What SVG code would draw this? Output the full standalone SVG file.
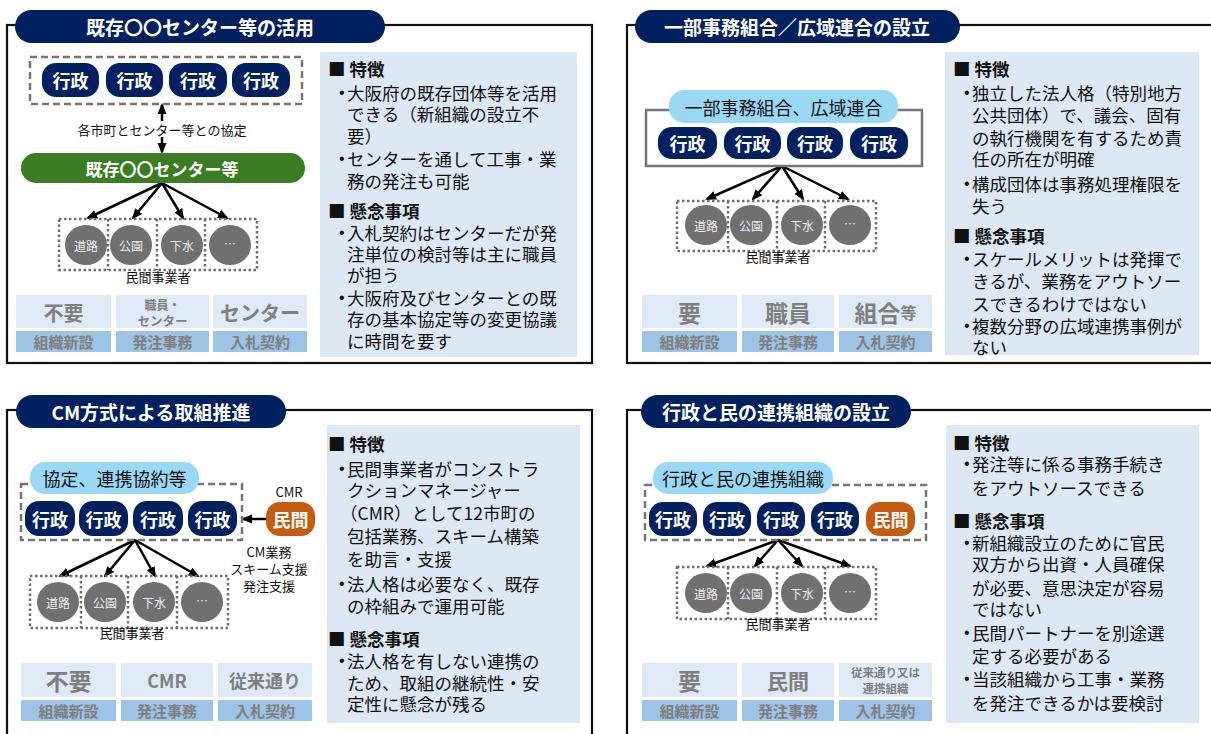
<svg xmlns="http://www.w3.org/2000/svg" width="1211" height="734" viewBox="0 0 1211 734">
<defs>
<marker id="ah" markerWidth="11" markerHeight="10" refX="9" refY="5" orient="auto" markerUnits="userSpaceOnUse"><path d="M0,0.5 L11,5 L0,9.5 z" fill="#000"/></marker>
<style>
text{font-family:"Noto Sans CJK JP","Noto Sans",sans-serif;}
.frame{fill:none;stroke:#111;stroke-width:2.2;}
.title{fill:#002060;}
.tt{fill:#fff;font-size:19px;font-weight:bold;text-anchor:middle;dominant-baseline:central;}
.gov{fill:#002060;}
.govt{fill:#fff;font-size:18px;font-weight:bold;text-anchor:middle;dominant-baseline:central;}
.min{fill:#c55a11;}
.dash{fill:none;stroke:#767676;stroke-width:2.5;stroke-dasharray:7 4;}
.solid{fill:none;stroke:#767676;stroke-width:2.5;}
.dot{fill:none;stroke:#6f6f6f;stroke-width:2.5;stroke-dasharray:2.5 2.5;}
.lb{fill:#99d9f6;}
.lbt{fill:#111;font-size:18px;text-anchor:middle;dominant-baseline:central;}
.circ{fill:#707070;}
.ct{fill:#eee;font-size:12px;text-anchor:middle;dominant-baseline:central;}
.small{fill:#111;font-size:13px;text-anchor:middle;dominant-baseline:central;}
.r1{fill:#deebf7;}
.r2{fill:#9dc3e6;}
.g{fill:#7f7f7f;font-weight:bold;text-anchor:middle;dominant-baseline:central;}
.box{fill:#dde8f5;}
.bt{fill:#111;font-size:17.5px;dominant-baseline:central;}
.hd{font-weight:bold;}
.bul{font-family:"Liberation Sans",sans-serif;font-size:16px;}
.con{fill:none;stroke:#000;stroke-width:2.5;}
</style>
</defs>
<rect width="1211" height="734" fill="#fff"/>

<!-- frames -->
<g id="frames">
<rect class="frame" x="7" y="25" width="585" height="338"/>
<rect class="frame" x="627" y="25" width="600" height="338"/>
<rect class="frame" x="7" y="410" width="585" height="340"/>
<rect class="frame" x="627" y="410" width="600" height="340"/>
</g>

<!-- connectors -->
<g id="connectors">
<line class="con" x1="162" y1="121" x2="162" y2="105" marker-end="url(#ah)"/>
<line class="con" x1="162" y1="137" x2="162" y2="152" marker-end="url(#ah)"/>
<line class="con" x1="162" y1="183" x2="88" y2="218" marker-end="url(#ah)"/>
<line class="con" x1="162" y1="183" x2="133" y2="218" marker-end="url(#ah)"/>
<line class="con" x1="162" y1="183" x2="183" y2="218" marker-end="url(#ah)"/>
<line class="con" x1="162" y1="183" x2="227" y2="218" marker-end="url(#ah)"/>

<line class="con" x1="782" y1="166" x2="707" y2="199" marker-end="url(#ah)"/>
<line class="con" x1="782" y1="166" x2="753" y2="199" marker-end="url(#ah)"/>
<line class="con" x1="782" y1="166" x2="803" y2="199" marker-end="url(#ah)"/>
<line class="con" x1="782" y1="166" x2="848" y2="199" marker-end="url(#ah)"/>

<line class="con" x1="266" y1="519" x2="243" y2="519" marker-end="url(#ah)"/>
<line class="con" x1="135" y1="540" x2="60" y2="576" marker-end="url(#ah)"/>
<line class="con" x1="135" y1="540" x2="105" y2="576" marker-end="url(#ah)"/>
<line class="con" x1="135" y1="540" x2="155" y2="576" marker-end="url(#ah)"/>
<line class="con" x1="135" y1="540" x2="198" y2="576" marker-end="url(#ah)"/>

<line class="con" x1="778" y1="540" x2="707" y2="566" marker-end="url(#ah)"/>
<line class="con" x1="778" y1="540" x2="755" y2="566" marker-end="url(#ah)"/>
<line class="con" x1="778" y1="540" x2="802" y2="566" marker-end="url(#ah)"/>
<line class="con" x1="778" y1="540" x2="850" y2="566" marker-end="url(#ah)"/>
</g>

<!-- ============ Panel 1 ============ -->
<g id="p1-title"><rect class="title" x="15" y="10" width="370" height="33" rx="16.5"/><text class="tt" x="200" y="26.5">既存〇〇センター等の活用</text></g>
<g id="p1-gov">
<rect class="dash" x="30" y="57" width="272" height="47"/>
<rect class="gov" x="42" y="63" width="57" height="34" rx="14"/><text class="govt" x="70.5" y="80">行政</text>
<rect class="gov" x="106" y="63" width="57" height="34" rx="14"/><text class="govt" x="134.5" y="80">行政</text>
<rect class="gov" x="169" y="63" width="58" height="34" rx="14"/><text class="govt" x="198" y="80">行政</text>
<rect class="gov" x="232" y="63" width="58" height="34" rx="14"/><text class="govt" x="261" y="80">行政</text>
</g>
<g id="p1-agree"><text class="small" x="162" y="129">各市町とセンター等との協定</text></g>
<g id="p1-center"><rect x="21" y="153" width="284" height="30" rx="15" fill="#3a7d22"/><text x="162" y="168" fill="#fff" font-size="17" font-weight="bold" text-anchor="middle" dominant-baseline="central">既存〇〇センター等</text></g>
<g id="p1-private">
<rect class="dot" x="59" y="219" width="198" height="51"/>
<line class="dot" x1="108" y1="219" x2="108" y2="270"/><line class="dot" x1="157" y1="219" x2="157" y2="270"/><line class="dot" x1="205" y1="219" x2="205" y2="270"/>
<ellipse class="circ" cx="86" cy="245" rx="21" ry="20"/><text class="ct" x="86" y="245">道路</text>
<ellipse class="circ" cx="131" cy="245" rx="21" ry="20"/><text class="ct" x="131" y="245">公園</text>
<ellipse class="circ" cx="182" cy="245" rx="21" ry="20"/><text class="ct" x="182" y="245">下水</text>
<ellipse class="circ" cx="230" cy="245" rx="21" ry="20"/><text class="ct" x="230" y="243">…</text>
<text class="small" x="158" y="276" font-size="13.5">民間事業者</text>
</g>
<g id="p1-table">
<rect class="r1" x="16" y="295" width="95" height="33"/><rect class="r1" x="116" y="295" width="93" height="33"/><rect class="r1" x="213" y="295" width="94" height="33"/>
<rect class="r2" x="16" y="331" width="95" height="21"/><rect class="r2" x="116" y="331" width="93" height="21"/><rect class="r2" x="213" y="331" width="94" height="21"/>
<text class="g" x="63.5" y="312" font-size="20">不要</text>
<text class="g" x="162.5" y="304" font-size="12">職員・</text>
<text class="g" x="162.5" y="320" font-size="12.5">センター</text>
<text class="g" x="260" y="312" font-size="20">センター</text>
<text class="g" x="63.5" y="341.5" font-size="15">組織新設</text>
<text class="g" x="162.5" y="341.5" font-size="15">発注事務</text>
<text class="g" x="260" y="341.5" font-size="15">入札契約</text>
</g>
<g id="p1-notes">
<rect class="box" x="320" y="52" width="257" height="305"/>
<text class="bt hd" x="328" y="68">■ 特徴</text>
<text class="bt" x="339" y="92"><tspan class="bul">•</tspan><tspan x="347">大阪府の既存団体等を活用</tspan></text>
<text class="bt" x="347" y="113">できる（新組織の設立不</text>
<text class="bt" x="347" y="135">要）</text>
<text class="bt" x="339" y="158"><tspan class="bul">•</tspan><tspan x="347">センターを通して工事・業</tspan></text>
<text class="bt" x="347" y="180">務の発注も可能</text>
<text class="bt hd" x="328" y="210">■ 懸念事項</text>
<text class="bt" x="339" y="232"><tspan class="bul">•</tspan><tspan x="347">入札契約はセンターだが発</tspan></text>
<text class="bt" x="347" y="253">注単位の検討等は主に職員</text>
<text class="bt" x="347" y="274">が担う</text>
<text class="bt" x="339" y="297"><tspan class="bul">•</tspan><tspan x="347">大阪府及びセンターとの既</tspan></text>
<text class="bt" x="347" y="318">存の基本協定等の変更協議</text>
<text class="bt" x="347" y="340">に時間を要す</text>
</g>

<!-- ============ Panel 2 ============ -->
<g id="p2-title"><rect class="title" x="635" y="10" width="325" height="33" rx="16.5"/><text class="tt" x="797" y="26.5">一部事務組合／広域連合の設立</text></g>
<g id="p2-gov">
<rect class="solid" x="646" y="110" width="276" height="56"/>
<rect class="lb" x="669" y="90" width="229" height="33" rx="15"/><text class="lbt" x="783.5" y="106.5" font-size="17">一部事務組合、広域連合</text>
<rect class="gov" x="658" y="127" width="59" height="32" rx="14"/><text class="govt" x="687.5" y="143">行政</text>
<rect class="gov" x="724" y="127" width="57" height="32" rx="14"/><text class="govt" x="752.5" y="143">行政</text>
<rect class="gov" x="787" y="127" width="56" height="32" rx="14"/><text class="govt" x="815" y="143">行政</text>
<rect class="gov" x="850" y="127" width="58" height="32" rx="14"/><text class="govt" x="879" y="143">行政</text>
</g>
<g id="p2-private">
<rect class="dot" x="677" y="201" width="199" height="50"/>
<line class="dot" x1="728" y1="201" x2="728" y2="251"/><line class="dot" x1="777" y1="201" x2="777" y2="251"/><line class="dot" x1="825" y1="201" x2="825" y2="251"/>
<ellipse class="circ" cx="706" cy="225" rx="21" ry="20"/><text class="ct" x="706" y="225">道路</text>
<ellipse class="circ" cx="751" cy="225" rx="21" ry="20"/><text class="ct" x="751" y="225">公園</text>
<ellipse class="circ" cx="802" cy="225" rx="21" ry="20"/><text class="ct" x="802" y="225">下水</text>
<ellipse class="circ" cx="850" cy="225" rx="21" ry="20"/><text class="ct" x="850" y="223">…</text>
<text class="small" x="778" y="256" font-size="13.5">民間事業者</text>
</g>
<g id="p2-table">
<rect class="r1" x="642" y="295" width="95" height="33"/><rect class="r1" x="742" y="295" width="92" height="33"/><rect class="r1" x="839" y="295" width="93" height="33"/>
<rect class="r2" x="642" y="331" width="95" height="21"/><rect class="r2" x="742" y="331" width="92" height="21"/><rect class="r2" x="839" y="331" width="93" height="21"/>
<text class="g" x="689.5" y="312" font-size="23">要</text>
<text class="g" x="788" y="312" font-size="23">職員</text>
<text class="g" x="885.5" y="312" font-size="23">組合<tspan font-size="16">等</tspan></text>
<text class="g" x="689.5" y="341.5" font-size="15">組織新設</text>
<text class="g" x="788" y="341.5" font-size="15">発注事務</text>
<text class="g" x="885.5" y="341.5" font-size="15">入札契約</text>
</g>
<g id="p2-notes">
<rect class="box" x="945" y="52" width="254" height="303"/>
<text class="bt hd" x="953" y="68">■ 特徴</text>
<text class="bt" x="964" y="92"><tspan class="bul">•</tspan><tspan x="972">独立した法人格（特別地方</tspan></text>
<text class="bt" x="972" y="114">公共団体）で、議会、固有</text>
<text class="bt" x="972" y="137">の執行機関を有するため責</text>
<text class="bt" x="972" y="158">任の所在が明確</text>
<text class="bt" x="964" y="183"><tspan class="bul">•</tspan><tspan x="972">構成団体は事務処理権限を</tspan></text>
<text class="bt" x="972" y="205">失う</text>
<text class="bt hd" x="953" y="235">■ 懸念事項</text>
<text class="bt" x="964" y="258"><tspan class="bul">•</tspan><tspan x="972">スケールメリットは発揮で</tspan></text>
<text class="bt" x="972" y="280">きるが、業務をアウトソー</text>
<text class="bt" x="972" y="303">スできるわけではない</text>
<text class="bt" x="964" y="325"><tspan class="bul">•</tspan><tspan x="972">複数分野の広域連携事例が</tspan></text>
<text class="bt" x="972" y="346">ない</text>
</g>

<!-- ============ Panel 3 ============ -->
<g id="p3-title"><rect class="title" x="16" y="395" width="270" height="33" rx="16.5"/><text class="tt" x="151" y="411.5">CM方式による取組推進</text></g>
<g id="p3-gov">
<rect class="dash" x="21" y="484" width="221" height="56"/>
<rect class="lb" x="30" y="462" width="169" height="32" rx="15"/><text class="lbt" x="114.5" y="478">協定、連携協約等</text>
<rect class="gov" x="25" y="501" width="50" height="35" rx="14"/><text class="govt" x="50" y="518.5">行政</text>
<rect class="gov" x="79" y="501" width="49" height="35" rx="14"/><text class="govt" x="103.5" y="518.5">行政</text>
<rect class="gov" x="133" y="501" width="50" height="35" rx="14"/><text class="govt" x="158" y="518.5">行政</text>
<rect class="gov" x="188" y="501" width="49" height="35" rx="14"/><text class="govt" x="212.5" y="518.5">行政</text>
</g>
<g id="p3-cmr">
<text class="small" x="289" y="491">CMR</text>
<rect class="min" x="266" y="502" width="49" height="34" rx="14"/><text class="govt" x="290.5" y="519">民間</text>
<text class="small" x="269" y="551">CM業務</text>
<text class="small" x="269" y="568">スキーム支援</text>
<text class="small" x="269" y="585">発注支援</text>
</g>
<g id="p3-private">
<rect class="dot" x="30" y="576" width="198" height="52"/>
<line class="dot" x1="81" y1="576" x2="81" y2="628"/><line class="dot" x1="128" y1="576" x2="128" y2="628"/><line class="dot" x1="177" y1="576" x2="177" y2="628"/>
<ellipse class="circ" cx="58" cy="602" rx="21" ry="20"/><text class="ct" x="58" y="602">道路</text>
<ellipse class="circ" cx="105" cy="602" rx="21" ry="20"/><text class="ct" x="105" y="602">公園</text>
<ellipse class="circ" cx="154" cy="602" rx="21" ry="20"/><text class="ct" x="154" y="602">下水</text>
<ellipse class="circ" cx="202" cy="602" rx="21" ry="20"/><text class="ct" x="202" y="600">…</text>
<text class="small" x="132" y="632" font-size="13.5">民間事業者</text>
</g>
<g id="p3-table">
<rect class="r1" x="21" y="663" width="95" height="34"/><rect class="r1" x="121" y="663" width="92" height="34"/><rect class="r1" x="218" y="663" width="94" height="34"/>
<rect class="r2" x="21" y="700" width="95" height="21"/><rect class="r2" x="121" y="700" width="92" height="21"/><rect class="r2" x="218" y="700" width="94" height="21"/>
<text class="g" x="68.5" y="680" font-size="23">不要</text>
<text class="g" x="167" y="680" font-size="18" font-family="Liberation Sans, sans-serif">CMR</text>
<text class="g" x="265" y="680" font-size="18">従来通り</text>
<text class="g" x="68.5" y="710.5" font-size="15">組織新設</text>
<text class="g" x="167" y="710.5" font-size="15">発注事務</text>
<text class="g" x="265" y="710.5" font-size="15">入札契約</text>
</g>
<g id="p3-notes">
<rect class="box" x="327" y="425" width="253" height="298"/>
<text class="bt hd" x="328" y="443">■ 特徴</text>
<text class="bt" x="339" y="468"><tspan class="bul">•</tspan><tspan x="347">民間事業者がコンストラ</tspan></text>
<text class="bt" x="347" y="489">クションマネージャー</text>
<text class="bt" x="340" y="512">（CMR）として12市町の</text>
<text class="bt" x="347" y="535">包括業務、スキーム構築</text>
<text class="bt" x="347" y="558">を助言・支援</text>
<text class="bt" x="339" y="583"><tspan class="bul">•</tspan><tspan x="347">法人格は必要なく、既存</tspan></text>
<text class="bt" x="347" y="605">の枠組みで運用可能</text>
<text class="bt hd" x="328" y="638">■ 懸念事項</text>
<text class="bt" x="339" y="660"><tspan class="bul">•</tspan><tspan x="347">法人格を有しない連携の</tspan></text>
<text class="bt" x="347" y="682">ため、取組の継続性・安</text>
<text class="bt" x="347" y="703">定性に懸念が残る</text>
</g>

<!-- ============ Panel 4 ============ -->
<g id="p4-title"><rect class="title" x="641" y="395" width="270" height="33" rx="16.5"/><text class="tt" x="776" y="411.5">行政と民の連携組織の設立</text></g>
<g id="p4-gov">
<rect class="dash" x="645" y="485" width="281" height="55"/>
<rect class="lb" x="653" y="462" width="180" height="32" rx="15"/><text class="lbt" x="743" y="478">行政と民の連携組織</text>
<rect class="gov" x="649" y="502" width="48" height="34" rx="14"/><text class="govt" x="673" y="519">行政</text>
<rect class="gov" x="703" y="502" width="48" height="34" rx="14"/><text class="govt" x="727" y="519">行政</text>
<rect class="gov" x="757" y="502" width="48" height="34" rx="14"/><text class="govt" x="781" y="519">行政</text>
<rect class="gov" x="811" y="502" width="48" height="34" rx="14"/><text class="govt" x="835" y="519">行政</text>
<rect class="min" x="866" y="502" width="49" height="34" rx="14"/><text class="govt" x="890.5" y="519">民間</text>
</g>
<g id="p4-private">
<rect class="dot" x="677" y="567" width="199" height="52"/>
<line class="dot" x1="728" y1="567" x2="728" y2="619"/><line class="dot" x1="777" y1="567" x2="777" y2="619"/><line class="dot" x1="825" y1="567" x2="825" y2="619"/>
<ellipse class="circ" cx="706" cy="593" rx="21" ry="20"/><text class="ct" x="706" y="593">道路</text>
<ellipse class="circ" cx="751" cy="593" rx="21" ry="20"/><text class="ct" x="751" y="593">公園</text>
<ellipse class="circ" cx="802" cy="593" rx="21" ry="20"/><text class="ct" x="802" y="593">下水</text>
<ellipse class="circ" cx="850" cy="593" rx="21" ry="20"/><text class="ct" x="850" y="591">…</text>
<text class="small" x="778" y="623" font-size="13.5">民間事業者</text>
</g>
<g id="p4-table">
<rect class="r1" x="642" y="663" width="95" height="34"/><rect class="r1" x="742" y="663" width="92" height="34"/><rect class="r1" x="839" y="663" width="93" height="34"/>
<rect class="r2" x="642" y="700" width="95" height="21"/><rect class="r2" x="742" y="700" width="92" height="21"/><rect class="r2" x="839" y="700" width="93" height="21"/>
<text class="g" x="689.5" y="680" font-size="23">要</text>
<text class="g" x="788" y="680" font-size="21">民間</text>
<text class="g" x="885.5" y="672" font-size="11.5">従来通り又は</text>
<text class="g" x="885.5" y="688" font-size="11.5">連携組織</text>
<text class="g" x="689.5" y="710.5" font-size="15">組織新設</text>
<text class="g" x="788" y="710.5" font-size="15">発注事務</text>
<text class="g" x="885.5" y="710.5" font-size="15">入札契約</text>
</g>
<g id="p4-notes">
<rect class="box" x="946" y="425" width="253" height="298"/>
<text class="bt hd" x="953" y="442">■ 特徴</text>
<text class="bt" x="964" y="463"><tspan class="bul">•</tspan><tspan x="972">発注等に係る事務手続き</tspan></text>
<text class="bt" x="972" y="487">をアウトソースできる</text>
<text class="bt hd" x="953" y="520">■ 懸念事項</text>
<text class="bt" x="964" y="542"><tspan class="bul">•</tspan><tspan x="972">新組織設立のために官民</tspan></text>
<text class="bt" x="972" y="563">双方から出資・人員確保</text>
<text class="bt" x="972" y="587">が必要、意思決定が容易</text>
<text class="bt" x="972" y="608">ではない</text>
<text class="bt" x="964" y="632"><tspan class="bul">•</tspan><tspan x="972">民間パートナーを別途選</tspan></text>
<text class="bt" x="972" y="655">定する必要がある</text>
<text class="bt" x="964" y="678"><tspan class="bul">•</tspan><tspan x="972">当該組織から工事・業務</tspan></text>
<text class="bt" x="972" y="702">を発注できるかは要検討</text>
</g>
</svg>
